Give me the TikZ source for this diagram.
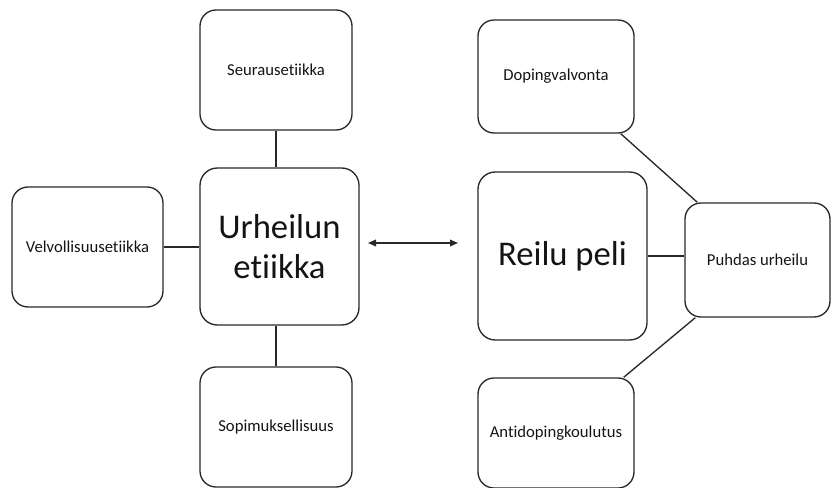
\documentclass[tikz,border=0pt]{standalone}
\usepackage{fontspec}
\setmainfont[Ligatures=NoCommon]{Carlito}
\usetikzlibrary{arrows.meta, calc}
\definecolor{boxline}{RGB}{40,40,40}
\definecolor{boxtext}{RGB}{20,20,20}

\tikzset{
  ethbox/.style={draw=boxline, line width=1pt, rounded corners=12pt, inner sep=0pt,
    align=center, text=boxtext, font=\fontsize{12.5}{15}\selectfont},
  bigbox/.style={ethbox, rounded corners=13pt, font=\fontsize{26}{30}\selectfont},
  link/.style={draw=boxline, line width=1pt}
}

\begin{document}
\begin{tikzpicture}[x=0.75pt, y=-0.75pt]
  \useasboundingbox (0,0) rectangle (832,488);
  % Left group
  \node[bigbox, minimum width=119.25pt, minimum height=117.75pt] (urh) at (279.5,246.5) {Urheilun\\etiikka};
  \node[ethbox, minimum width=114pt, minimum height=90pt] (seur) at (276,70) {Seurausetiikka};
  \node[ethbox, minimum width=113.25pt, minimum height=90pt] (velv) at (87.5,247) {Velvollisuusetiikka};
  \node[ethbox, minimum width=114pt, minimum height=90pt] (sop) at (276,427) {Sopimuksellisuus};
  % Right group
  \node[bigbox, minimum width=126.75pt, minimum height=126pt] (reilu) at (562.5,256) {Reilu peli};
  \node[ethbox, minimum width=117pt, minimum height=84.75pt] (dop) at (556,76.5) {Dopingvalvonta};
  \node[ethbox, minimum width=108.75pt, minimum height=85.5pt] (puhdas) at (757.5,260) {Puhdas urheilu};
  \node[ethbox, minimum width=117pt, minimum height=82.5pt] (anti) at (556,433) {Antidopingkoulutus};
  % Links
  \draw[link] (seur.south) -- (seur.south |- urh.north);
  \draw[link] (sop.north) -- (sop.north |- urh.south);
  \draw[link] (velv.east) -- (velv.east -| urh.west);
  \draw[link] (reilu.east) -- (reilu.east -| puhdas.west);
  \draw[link] ($(dop.south east)+(-14,0)$) -- ($(puhdas.north west)+(13,0)$);
  \draw[link] ($(puhdas.south west)+(11,0)$) -- ($(anti.north east)+(-11,0)$);
  % Double arrow
  \coordinate (arrl) at (368,243);
  \coordinate (arrr) at (458,243);
  \draw[link, {Triangle[length=6pt,width=5pt]}-{Triangle[length=6pt,width=5pt]}] (arrl) -- (arrr);
\end{tikzpicture}
\end{document}
